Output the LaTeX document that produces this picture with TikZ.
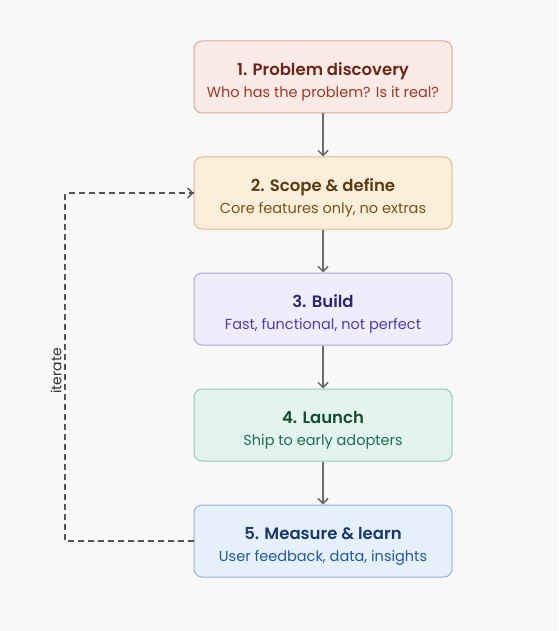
\documentclass[tikz,border=0pt]{standalone}
\usepackage{fontspec}
\setmainfont{Poppins}[BoldFont={Poppins SemiBold}]
\usetikzlibrary{arrows.meta}
\definecolor{bg}{HTML}{F8F8F6}
\definecolor{aF}{HTML}{FBEAE5}\definecolor{aD}{HTML}{D9A99C}\definecolor{aT}{HTML}{6A2717}\definecolor{aS}{HTML}{9A3A22}
\definecolor{bF}{HTML}{FBEFDB}\definecolor{bD}{HTML}{D8BC8E}\definecolor{bT}{HTML}{5A3B0F}\definecolor{bS}{HTML}{7A5213}
\definecolor{cF}{HTML}{EFEDFC}\definecolor{cD}{HTML}{AEA6E2}\definecolor{cT}{HTML}{2D2670}\definecolor{cS}{HTML}{4A3DB2}
\definecolor{dF}{HTML}{E2F4EC}\definecolor{dD}{HTML}{92CCB2}\definecolor{dT}{HTML}{164C35}\definecolor{dS}{HTML}{1E7050}
\definecolor{eF}{HTML}{E6F0FB}\definecolor{eD}{HTML}{92B2DA}\definecolor{eT}{HTML}{163A6B}\definecolor{eS}{HTML}{1F5AA0}
\definecolor{arr}{HTML}{6B6B6B}
\definecolor{dsh}{HTML}{555555}
\tikzset{
  stepbox/.style={draw=#1D, fill=#1F, rounded corners=8pt, line width=1pt,
    minimum width=258pt, minimum height=72pt, inner sep=0pt},
  ttl/.style={anchor=base, inner sep=0pt, text=#1, font=\fontsize{16.5}{19}\selectfont\bfseries},
  sub/.style={anchor=base, inner sep=0pt, text=#1, font=\fontsize{14.5}{17}\selectfont},
  flow/.style={draw=arr, line width=1.5pt, -{Straight Barb[length=5pt,width=10pt,line width=1.5pt]}},
  loop/.style={draw=dsh, line width=1.3pt, dash pattern=on 6pt off 4pt},
}
\begin{document}
\begin{tikzpicture}[x=1pt,y=-1pt]
\fill[bg] (0,0) rectangle (558,631);
\useasboundingbox (0,0) rectangle (558,631);
\node[stepbox=a] (s1) at (323,77) {};
\node[stepbox=b] (s2) at (323,193) {};
\node[stepbox=c] (s3) at (323,309) {};
\node[stepbox=d] (s4) at (323,425) {};
\node[stepbox=e] (s5) at (323,541) {};
\node[ttl=aT] (t1) at ([yshift=-35pt]s1.north) {1. Problem discovery};
\node[sub=aS] (u1) at ([yshift=-57pt]s1.north) {Who has the problem? Is it real?};
\node[ttl=bT] (t2) at ([yshift=-35pt]s2.north) {2. Scope \& define};
\node[sub=bS] (u2) at ([yshift=-57pt]s2.north) {Core features only, no extras};
\node[ttl=cT] (t3) at ([yshift=-35pt]s3.north) {3. Build};
\node[sub=cS] (u3) at ([yshift=-57pt]s3.north) {Fast, functional, not perfect};
\node[ttl=dT] (t4) at ([yshift=-35pt]s4.north) {4. Launch};
\node[sub=dS] (u4) at ([yshift=-57pt]s4.north) {Ship to early adopters};
\node[ttl=eT] (t5) at ([yshift=-35pt]s5.north) {5. Measure \& learn};
\node[sub=eS] (u5) at ([yshift=-57pt]s5.north) {User feedback, data, insights};
\draw[flow] (s1) -- (s2);
\draw[flow] (s2) -- (s3);
\draw[flow] (s3) -- (s4);
\draw[flow] (s4) -- (s5);
\coordinate (lb) at (65,541);
\coordinate (lt) at (65,193);
\draw[loop] (s5.west) -- (lb) -- (lt) -- (s2.west);
\draw[draw=dsh, line width=1.3pt, {Straight Barb[length=5pt,width=10pt,line width=1.3pt]}-] (s2.west) -- ++(-3,0);
\node[fill=bg, rotate=90, inner sep=2pt, text=black!80, font=\fontsize{14}{16}\selectfont] (it) at (56,371) {iterate};
\end{tikzpicture}
\end{document}
